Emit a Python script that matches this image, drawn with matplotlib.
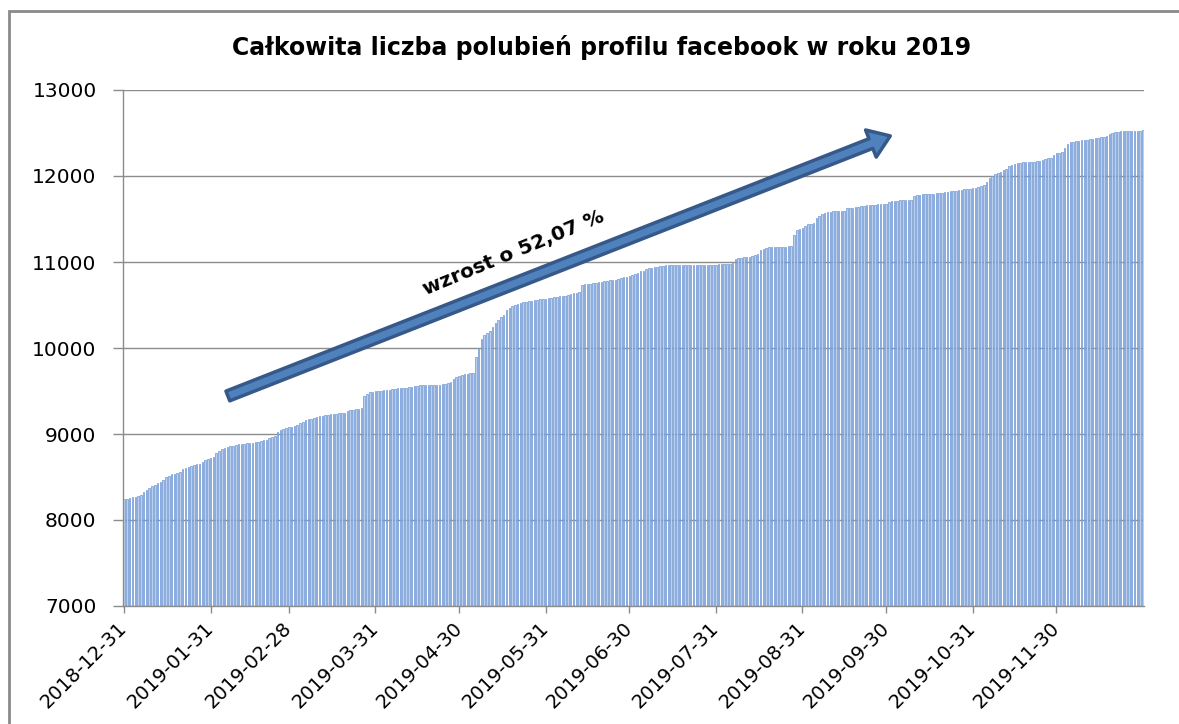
import matplotlib
matplotlib.use("Agg")
import matplotlib.pyplot as plt
import numpy as np
import pandas as pd
from matplotlib.patches import FancyArrowPatch, Rectangle

# Daily total page likes, 2018-12-31 .. 2019-12-31
dec31_jan = [8240, 8245, 8260, 8265, 8270, 8275, 8285, 8330, 8350, 8370, 8390, 8410,
             8425, 8445, 8460, 8500, 8510, 8530, 8535, 8545, 8560, 8590, 8605, 8615,
             8630, 8640, 8650, 8655, 8670, 8700, 8715, 8725]
feb = [8735, 8780, 8805, 8825, 8835, 8850, 8860, 8865, 8875, 8880, 8885, 8885, 8890,
       8895, 8900, 8905, 8910, 8915, 8925, 8935, 8950, 8965, 8975, 9025, 9045, 9055,
       9070, 9080]
mar = [9085, 9090, 9100, 9130, 9145, 9160, 9175, 9180, 9190, 9200, 9210, 9215, 9220,
       9225, 9230, 9235, 9238, 9240, 9245, 9250, 9265, 9275, 9280, 9285, 9295, 9300,
       9440, 9470, 9485, 9490, 9495]
apr = [9500, 9505, 9510, 9512, 9515, 9520, 9525, 9530, 9535, 9538, 9540, 9545, 9548,
       9555, 9560, 9565, 9565, 9568, 9570, 9570, 9572, 9575, 9575, 9580, 9585, 9590,
       9600, 9640, 9660, 9680]
may = [9690, 9695, 9700, 9705, 9710, 9900, 10000, 10110, 10150, 10170, 10200, 10250,
       10290, 10330, 10360, 10380, 10440, 10470, 10490, 10500, 10510, 10520, 10530,
       10540, 10545, 10550, 10555, 10560, 10565, 10570, 10575]
jun = [10580, 10585, 10590, 10595, 10600, 10605, 10610, 10615, 10625, 10635, 10645,
       10655, 10730, 10740, 10745, 10750, 10755, 10760, 10765, 10770, 10775, 10780,
       10785, 10790, 10795, 10800, 10810, 10820, 10830, 10840]
jul = [10850, 10865, 10875, 10890, 10900, 10915, 10925, 10935, 10940, 10945, 10950,
       10955, 10960, 10965, 10965, 10965, 10966, 10966, 10966, 10967, 10967, 10967,
       10968, 10968, 10968, 10968, 10969, 10969, 10969, 10970, 10970]
aug = [10975, 10975, 10978, 10980, 10980, 10985, 11040, 11045, 11050, 11055, 11058,
       11060, 11065, 11080, 11095, 11140, 11155, 11165, 11170, 11175, 11178, 11180,
       11180, 11180, 11180, 11182, 11190, 11310, 11370, 11385, 11390]
sep = [11420, 11440, 11445, 11450, 11510, 11530, 11560, 11575, 11585, 11585, 11588,
       11588, 11590, 11592, 11595, 11625, 11630, 11632, 11635, 11640, 11650, 11655,
       11660, 11662, 11665, 11668, 11670, 11670, 11672, 11675]
oct_ = [11700, 11710, 11712, 11714, 11716, 11718, 11720, 11720, 11722, 11770, 11780,
        11782, 11785, 11786, 11788, 11790, 11795, 11800, 11805, 11808, 11810, 11815,
        11820, 11825, 11830, 11835, 11840, 11845, 11850, 11852, 11855]
nov = [11860, 11870, 11880, 11900, 11930, 11980, 12005, 12020, 12035, 12050, 12070,
       12085, 12120, 12130, 12140, 12150, 12155, 12158, 12160, 12160, 12162, 12165,
       12170, 12175, 12185, 12195, 12205, 12210, 12250, 12265]
dec = [12270, 12280, 12320, 12370, 12395, 12400, 12405, 12410, 12415, 12420, 12422,
       12425, 12430, 12440, 12445, 12450, 12455, 12460, 12490, 12505, 12510, 12515,
       12518, 12520, 12520, 12522, 12522, 12524, 12525, 12525, 12530]

likes = dec31_jan + feb + mar + apr + may + jun + jul + aug + sep + oct_ + nov + dec
start_date = "2018-12-31"
tick_labels = ["2018-12-31", "2019-01-31", "2019-02-28", "2019-03-31", "2019-04-30",
               "2019-05-31", "2019-06-30", "2019-07-31", "2019-08-31", "2019-09-30",
               "2019-10-31", "2019-11-30"]
title = "Całkowita liczba polubień profilu facebook w roku 2019"
growth_label = "wzrost o 52,07 %"

dates = pd.date_range(start_date, periods=len(likes), freq="D")
x = np.arange(len(likes))
date_str = [d.strftime("%Y-%m-%d") for d in dates]
tick_pos = [date_str.index(t) for t in tick_labels]

W, H = 1179, 724
fig = plt.figure(figsize=(W / 100, H / 100), dpi=100)
fig.patch.set_facecolor("white")

# chart area border
fig.patches.append(Rectangle((9 / W, -0.05), 1.2, 1 - 11 / H + 0.05, transform=fig.transFigure,
                             fill=False, edgecolor="#8a8a8a", linewidth=2, zorder=0))

ax = fig.add_axes([123 / W, 1 - 606 / H, (1144 - 123) / W, (606 - 90) / H])
ax.bar(x, likes, width=0.55, bottom=0, color="#bcd0ea", edgecolor="#6995d3",
       linewidth=0.5, zorder=2)

ax.set_ylim(7000, 13000)
ax.set_xlim(-0.4, len(likes) - 0.6)
ax.set_yticks(np.arange(7000, 13001, 1000))
ax.yaxis.grid(True, color="#8c8c8c", linewidth=1.0, zorder=1)
ax.set_axisbelow(True)

for s in ["top", "right"]:
    ax.spines[s].set_visible(False)
for s in ["left", "bottom"]:
    ax.spines[s].set_color("#8c8c8c")
    ax.spines[s].set_linewidth(1.0)

ax.set_xticks(tick_pos)
ax.set_xticklabels(tick_labels, rotation=45, ha="right", va="center", rotation_mode="anchor")
ax.tick_params(axis="x", length=5, width=1, color="#8c8c8c", pad=9, labelsize=14)
ax.tick_params(axis="y", length=7, width=1, color="#8c8c8c", pad=12, labelsize=14.5)

fig.text(602 / W, 1 - 47 / H, title, ha="center", va="center", fontsize=17,
         fontweight="bold", family=["DejaVu Sans"])

arrow = FancyArrowPatch((0.1027, 0.407), (0.7515, 0.911), transform=ax.transAxes,
                        arrowstyle="simple,tail_width=7.5,head_width=21,head_length=15",
                        facecolor="#4f81bd", edgecolor="#36598a", linewidth=2.5,
                        shrinkA=0, shrinkB=0, zorder=5, clip_on=False)
ax.add_patch(arrow)

ax.text(0.3826, 0.684, growth_label, transform=ax.transAxes, rotation=22.5,
        ha="center", va="center", fontsize=14.5, fontweight="bold",
        family=["DejaVu Sans"], rotation_mode="anchor", zorder=6)

fig.savefig("out.png", dpi=100)
